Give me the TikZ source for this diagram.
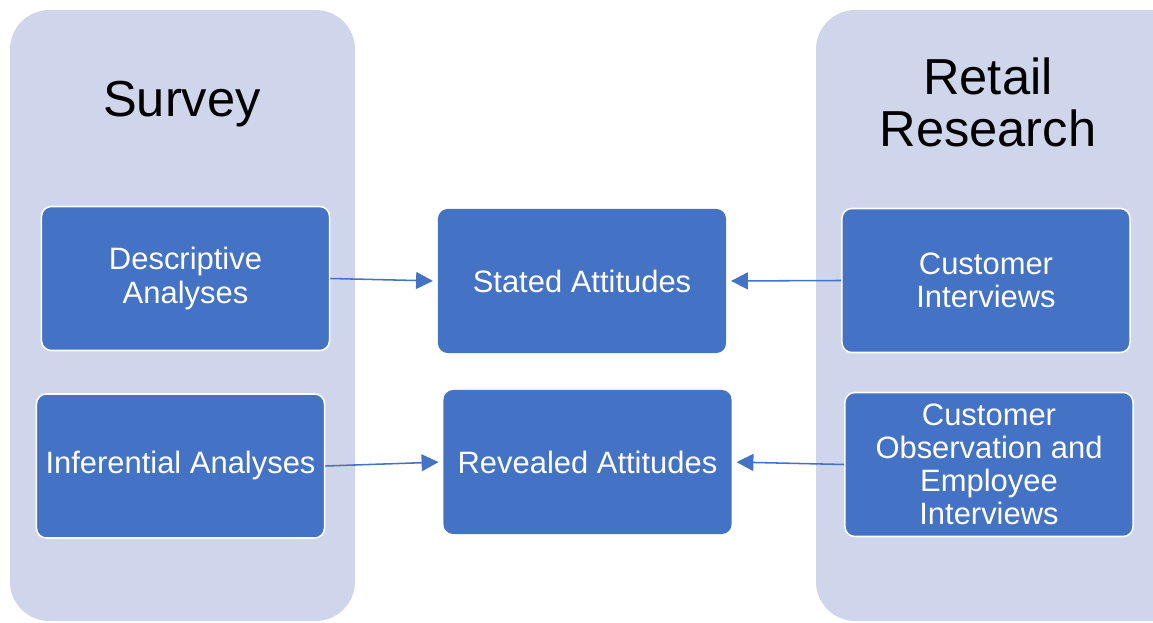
\documentclass[tikz,border=0pt]{standalone}
\usepackage{fontspec}
\setmainfont{Liberation Sans}
\definecolor{officeblue}{RGB}{68,114,196}
\definecolor{panellight}{RGB}{207,213,234}
\usetikzlibrary{arrows.meta,positioning}

\begin{document}
\begin{tikzpicture}[x=0.025cm,y=-0.025cm,
		panel/.style={fill=panellight, rounded corners=28pt},
		headline/.style={font=\fontsize{36}{37}\selectfont, align=center, text=black},
		methodbox/.style={draw=white, line width=1.1pt, fill=officeblue, rounded corners=7pt,
			minimum width=7.2cm, minimum height=3.6cm, align=center, text=white,
			font=\fontsize{22}{23.5}\selectfont},
		arrow/.style={-{Triangle[length=12pt,width=12pt]}, line width=1.1pt, officeblue, shorten >=3pt}
	]
		\useasboundingbox (0,0) rectangle (1153,623);
		\begin{scope}
			\clip (0,0) rectangle (1153,623);
			\fill[panel] (10,10) rectangle (355,621);
			\fill[panel] (816,10) rectangle (1200,621);
		\end{scope}
		\node[headline] (survey) at (182,104) {Survey};
		\node[headline] (retail) at (988,102) {Retail\\Research};
		\node[methodbox] (desc) at (185.5,278.5) {Descriptive\\Analyses};
		\node[methodbox] (infer) at (180.5,466) {Inferential Analyses};
		\node[methodbox, draw=none] (stated) at (582,281) {Stated Attitudes};
		\node[methodbox, draw=none] (revealed) at (587.5,462) {Revealed Attitudes};
		\node[methodbox] (interv) at (986,280.5) {Customer\\Interviews};
		\node[methodbox] (observ) at (989,464.5) {Customer\\Observation and\\Employee\\Interviews};
		\draw[arrow] (desc.east) -- (stated.west);
		\draw[arrow] (infer.east) -- (revealed.west);
		\draw[arrow] (interv.west) -- (stated.east);
		\draw[arrow] (observ.west) -- (revealed.east);
	\end{tikzpicture}
\end{document}
